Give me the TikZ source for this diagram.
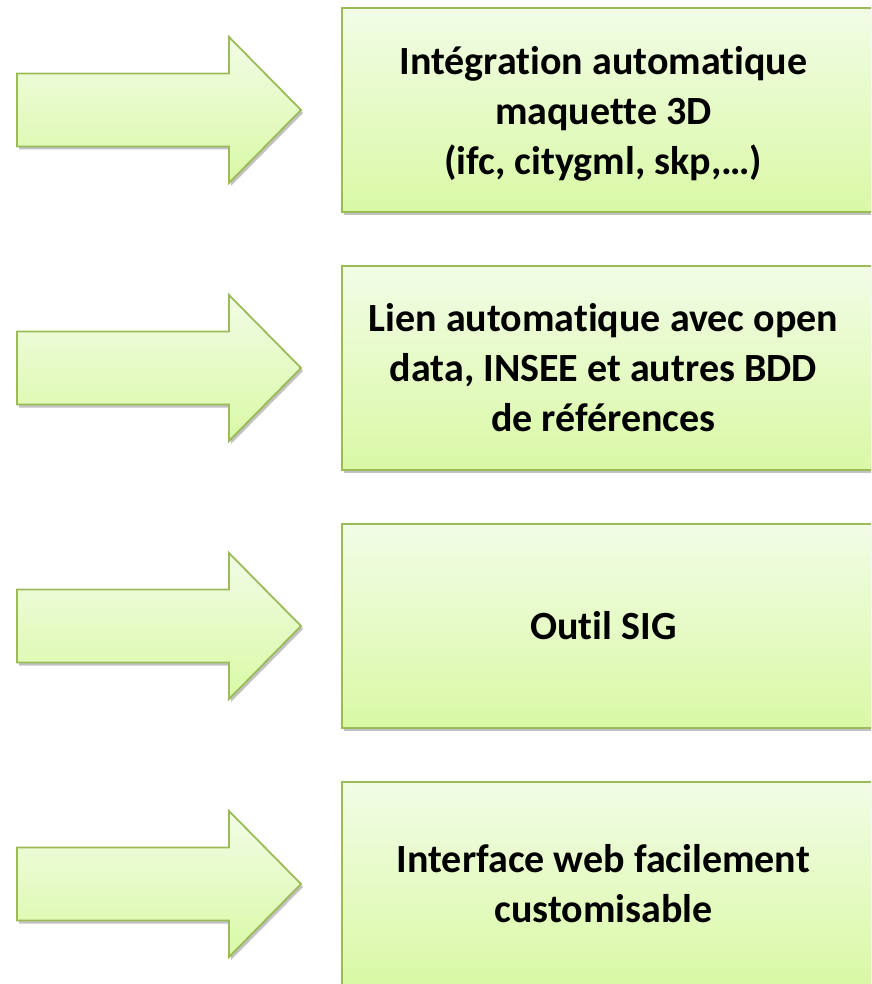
\documentclass[tikz,border=0pt]{standalone}
\usepackage{fontspec}
\setmainfont{Carlito}[Ligatures=NoCommon]
\usetikzlibrary{shadows,calc}

\definecolor{olivedraw}{HTML}{9BBB59}
\definecolor{limetop}{HTML}{F2FCE6}
\definecolor{limebot}{HTML}{D9F9A5}

\begin{document}
\begin{tikzpicture}[
    x=1pt, y=1pt,
    % --- styles ---
    % soft shadow under every shape
    softshadow/.style={
        drop shadow={shadow xshift=2pt, shadow yshift=-3pt, fill=black!60, opacity=0.4}
    },
    % green panel on the right
    panel/.style={
        rectangle,
        draw=olivedraw,
        line width=1.8pt,
        top color=limetop,
        bottom color=limebot,
        minimum width=545pt,
        minimum height=204pt,
        inner sep=0pt,
        anchor=north west,
        softshadow
    },
    % text inside a panel
    paneltext/.style={
        font=\fontsize{40}{50}\selectfont\bfseries,
        align=center
    },
    % block arrow on the left
    fatarrow/.style={
        draw=olivedraw,
        line width=1.8pt,
        line join=miter,
        top color=limetop,
        bottom color=limebot,
        softshadow
    }
]

\useasboundingbox (0,0) rectangle (871,-984);
\clip (0,0) rectangle (871,-984);

% --- panels ---
\node[panel] (box1) at (341,-7) {};
\node[paneltext] (txt1) at ([xshift=-11pt, yshift=-4pt]box1.center)
    {Intégration automatique\\maquette 3D\\(ifc, citygml, skp,…)};

\node[panel] (box2) at (341,-265) {};
\node[paneltext] (txt2) at ([xshift=-11pt]box2.center)
    {Lien automatique avec open\\data, INSEE et autres BDD\\de références};

\node[panel] (box3) at (341,-523) {};
\node[paneltext] (txt3) at ([xshift=-11pt]box3.center) {Outil SIG};

\node[panel] (box4) at (341,-781) {};
\node[paneltext] (txt4) at ([xshift=-11pt]box4.center)
    {Interface web facilement\\customisable};

% --- arrows ---
\foreach \k/\ypos in {1/-110, 2/-368, 3/-626, 4/-884} {
    \coordinate (arr\k) at (17,\ypos);
    \draw[fatarrow] ([yshift=36.5pt]arr\k) -- ++(212,0) -- ++(0,36.5)
        -- ++(72,-73) -- ++(-72,-73) -- ++(0,36.5) -- ++(-212,0) -- cycle;
}

\end{tikzpicture}
\end{document}
